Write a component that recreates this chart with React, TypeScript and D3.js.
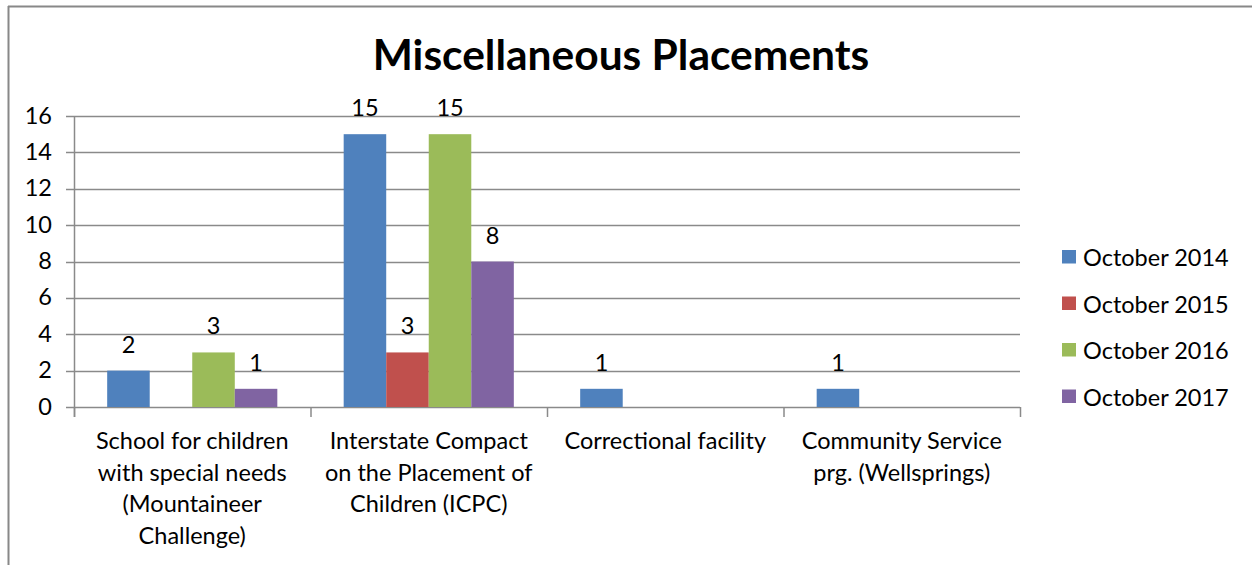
import React from "react";
import * as d3 from "d3";

const categories = [
  ["School for children", "with special needs", "(Mountaineer", "Challenge)"],
  ["Interstate Compact", "on the Placement of", "Children (ICPC)"],
  ["Correctional facility"],
  ["Community Service", "prg. (Wellsprings)"],
];
const seriesNames = ["October 2014", "October 2015", "October 2016", "October 2017"];
const oct2014 = [2, 15, 1, 1];
const oct2015 = [0, 3, 0, 0];
const oct2016 = [3, 15, 0, 0];
const oct2017 = [1, 8, 0, 0];
const yTicks = [0, 2, 4, 6, 8, 10, 12, 14, 16];
const colors = ["#4F81BD", "#C0504D", "#9BBB59", "#8064A2"];

const FONT = "Lato, 'Open Sans', sans-serif";

export default function App() {
  const W = 1252, H = 565;
  const left = 74, right = 1020, top = 116, bottom = 407;
  const FS = 23.5;
  const series = [oct2014, oct2015, oct2016, oct2017];
  const x = d3.scaleBand<number>().domain(d3.range(categories.length)).range([left, right]).paddingInner(0).paddingOuter(0);
  const inner = d3.scaleBand<number>().domain(d3.range(series.length)).range([0, x.bandwidth()]).paddingOuter(0.78).paddingInner(0);
  const y = d3.scaleLinear().domain([0, 16]).range([bottom, top]);
  const grid = "#8a8a8a";
  return (
    <svg width={W} height={H} style={{ position: "absolute", left: 0, top: 0 }} fontFamily={FONT}>
      <rect x={0} y={0} width={W} height={H} fill="#fff" />
      <line x1={8} x2={W} y1={6.5} y2={6.5} stroke="#888" strokeWidth={2} />
      <line x1={8.5} x2={8.5} y1={6} y2={H} stroke="#888" strokeWidth={2} />
      <text x={621} y={70} textAnchor="middle" fontSize={42.5} fontWeight={700} fill="#000">Miscellaneous Placements</text>
      {yTicks.map((t) => (
        <g key={t}>
          <line x1={66} x2={right} y1={Math.round(y(t)) + 0.5} y2={Math.round(y(t)) + 0.5} stroke={grid} strokeWidth={1.5} />
          <text x={52} y={y(t) + 7.5} textAnchor="end" fontSize={FS} fill="#000">{t}</text>
        </g>
      ))}
      <line x1={left + 0.5} x2={left + 0.5} y1={top} y2={bottom + 10} stroke={grid} strokeWidth={1.5} />
      {d3.range(categories.length + 1).map((i) => {
        const xx = i < categories.length ? x(i)! : right;
        return <line key={i} x1={xx + 0.5} x2={xx + 0.5} y1={bottom} y2={bottom + 10} stroke={grid} strokeWidth={1.5} />;
      })}
      {series.map((s, si) =>
        s.map((v, ci) =>
          v > 0 ? (
            <g key={si + "-" + ci}>
              <rect x={x(ci)! + inner(si)!} y={y(v)} width={inner.bandwidth()} height={bottom - y(v)} fill={colors[si]} />
              <text x={x(ci)! + inner(si)! + inner.bandwidth() / 2} y={y(v) - 18} textAnchor="middle" fontSize={FS} fill="#000">{v}</text>
            </g>
          ) : null
        )
      )}
      {categories.map((lines, ci) => (
        <text key={ci} x={x(ci)! + x.bandwidth() / 2} textAnchor="middle" fontSize={FS} fill="#000">
          {lines.map((l, li) => (
            <tspan key={li} x={x(ci)! + x.bandwidth() / 2} y={449 + li * 31.5}>{l}</tspan>
          ))}
        </text>
      ))}
      {seriesNames.map((n, i) => (
        <g key={n}>
          <rect x={1062} y={250 + i * 46.5} width={14} height={13.5} fill={colors[i]} />
          <text x={1083} y={266 + i * 46.5} fontSize={FS} fill="#000">{n}</text>
        </g>
      ))}
    </svg>
  );
}
